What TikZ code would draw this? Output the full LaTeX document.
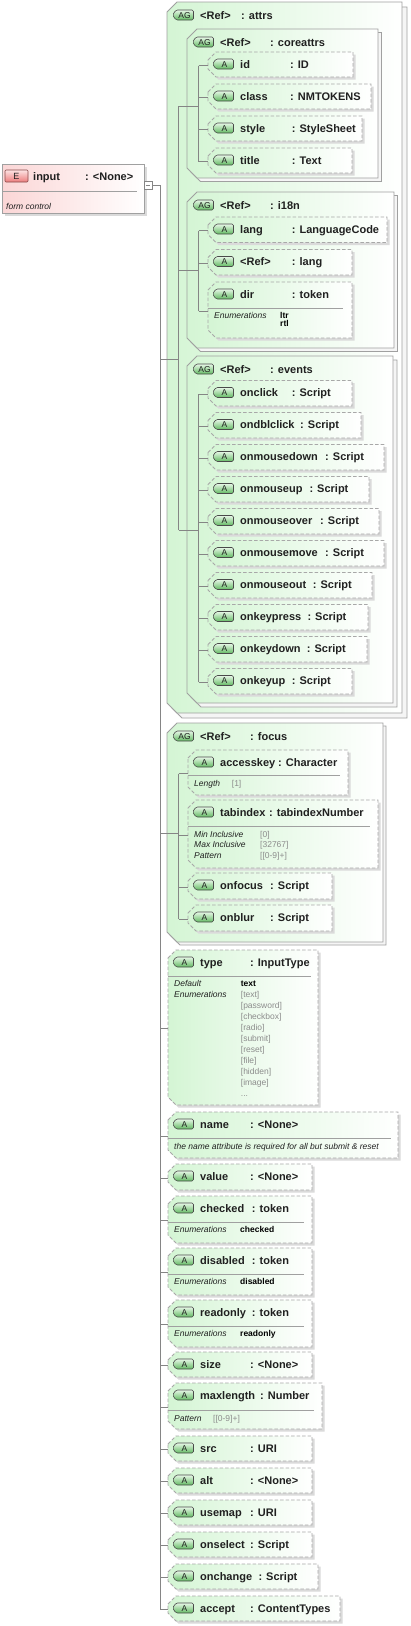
\documentclass[tikz,border=0pt]{standalone}
\usepackage{fontspec}
\setmainfont{Liberation Sans}
\definecolor{lineC}{HTML}{858585}
\definecolor{bordC}{HTML}{A0A0A0}
\definecolor{dashC}{HTML}{A8A8A8}
\definecolor{grnC}{HTML}{D4F5D4}
\definecolor{shadC}{HTML}{DADADA}
\definecolor{gshC}{HTML}{F5F5F5}
\definecolor{badgeTop}{HTML}{E6F7E6}
\definecolor{badgeBot}{HTML}{62BA62}
\definecolor{badgeBord}{HTML}{4A4A4A}
\definecolor{pinkC}{HTML}{FBD6D6}
\definecolor{eTop}{HTML}{FDE4E4}
\definecolor{eBot}{HTML}{EC7C7C}
\definecolor{eBord}{HTML}{8A4A4A}
\definecolor{valG}{HTML}{8C8C8C}
\definecolor{txtC}{HTML}{202020}
\newcommand\fName{\fontsize{11}{13}\selectfont\bfseries}
\newcommand\fHead{\fontsize{11}{13}\selectfont\bfseries}
\newcommand\fSmall{\fontsize{8.5}{10}\selectfont}
\newcommand\fBadge{\fontsize{8.5}{9}\selectfont}
\tikzset{
  conn/.style={draw=lineC, line width=0.8pt},
  namenode/.style={anchor=base west, inner sep=0pt, font=\fName, text=txtC},
  headnode/.style={anchor=base west, inner sep=0pt, font=\fHead, text=txtC},
  lblnode/.style={anchor=base west, inner sep=0pt, font=\fSmall\itshape, text=txtC},
  bvalnode/.style={anchor=base west, inner sep=0pt, font=\fSmall\bfseries, text=black},
  gvalnode/.style={anchor=base west, inner sep=0pt, font=\fSmall, text=valG},
  attrline/.style={draw=dashC, line width=0.9pt, dash pattern=on 3.5pt off 2pt},
  badgestyle/.style={draw=badgeBord, line width=0.6pt, rounded corners=1.5pt, top color=badgeTop, bottom color=badgeBot},
}
% badge: #1 L, #2 T, #3 text
\newcommand\xBadge[3]{%
  \draw[badgestyle] ({#1+4.5},{#2+12}) -- ({#1+8},{#2+7}) -- ({#1+25.5},{#2+7}) -- ({#1+25.5},{#2+17}) -- ({#1+8},{#2+17}) -- cycle;
  \node[font=\fBadge, inner sep=0pt, text=txtC] at ({#1+16.5},{#2+12.2}) {#3};
}
% attribute: #1 id, #2 L, #3 T, #4 R, #5 B, #6 name, #7 type x, #8 type
\newcommand\xAttr[8]{%
  \fill[shadC] ({#2+2.5},{#3+10.5}) -- ({#2+10.5},{#3+2.5}) -- ({#4+2.5},{#3+2.5}) -- ({#4+2.5},{#5+2.5}) -- ({#2+10.5},{#5+2.5}) -- ({#2+2.5},{#5-5.5}) -- cycle;
  \shade[left color=grnC, right color=white] (#2,{#3+8}) -- ({#2+8},#3) -- (#4,#3) -- (#4,#5) -- ({#2+8},#5) -- (#2,{#5-8}) -- cycle;
  \draw[attrline] (#2,{#3+8}) -- ({#2+8},#3) -- (#4,#3) -- (#4,#5) -- ({#2+8},#5) -- (#2,{#5-8}) -- cycle;
  \coordinate (#1) at (#2,{(#3+#5)/2+1});
  \xBadge{#2}{#3}{A}
  \node[namenode] (#1-n) at ({#2+32},{#3+16}) {#6};
  \node[namenode] (#1-t) at (#7,{#3+16}) {#8};
}
% group: #1 id, #2 L, #3 T, #4 R, #5 B, #6 offset, #7 title x, #8 title, #9 connection y
\newcommand\xGrp[9]{%
  \filldraw[fill=gshC, draw=bordC, line width=0.8pt] ({#2+#6},{#3+10+#6}) -- ({#2+10+#6},{#3+#6}) -- ({#4+#6},{#3+#6}) -- ({#4+#6},{#5+#6}) -- ({#2+10+#6},{#5+#6}) -- ({#2+#6},{#5-10+#6}) -- cycle;
  \shade[left color=grnC, right color=white] (#2,{#3+10}) -- ({#2+10},#3) -- (#4,#3) -- (#4,#5) -- ({#2+10},#5) -- (#2,{#5-10}) -- cycle;
  \draw[draw=bordC, line width=0.8pt] (#2,{#3+10}) -- ({#2+10},#3) -- (#4,#3) -- (#4,#5) -- ({#2+10},#5) -- (#2,{#5-10}) -- cycle;
  \xBadge{#2+1}{#3+1}{AG}
  \node[headnode] (#1-r) at ({#2+33},{#3+17}) {<Ref>};
  \node[headnode] (#1-t) at (#7,{#3+17}) {#8};
  \coordinate (#1) at (#2,#9);
  \coordinate (#1-v) at ({#2+11.5},#9);
}
\newcommand\xSep[3]{\draw[draw=bordC, line width=0.7pt] (#1,#3) -- (#2,#3);}
\newcommand\xLbl[3]{\node[lblnode] at (#1,#2) {#3};}
\newcommand\xBval[3]{\node[bvalnode] at (#1,#2) {#3};}
\newcommand\xGval[3]{\node[gvalnode] at (#1,#2) {#3};}

\begin{document}
\begin{tikzpicture}[x=1pt,y=-1pt]
\useasboundingbox (0,0) rectangle (411,1626);
\fill[white] (0,0) rectangle (411,1626);

% ---------- element input ----------
\fill[shadC] (5,167) rectangle (147,216);
\shade[left color=pinkC, right color=white] (2,164) rectangle (144,213);
\draw[draw=bordC, line width=0.8pt] (2,164) rectangle (144,213);
\draw[draw=bordC, line width=0.7pt] (2,191) -- (137,191);
\draw[draw=eBord, line width=0.6pt, rounded corners=1pt, top color=eTop, bottom color=eBot] (5,170) rectangle (28,182);
\node[font=\fontsize{9}{10}\selectfont, inner sep=0pt, text=txtC] (in-b) at (16.5,176.3) {E};
\node[namenode] (in-n) at (33,180) {input};
\node[namenode] (in-t) at (85,180) {: <None>};
\node[lblnode] (in-d) at (6,209.5) {form control};
\node[draw=lineC, fill=white, line width=0.7pt, minimum size=8pt, inner sep=0pt] (sq) at (148,185) {};
\draw[lineC, line width=0.7pt] ([xshift=2pt]sq.west) -- ([xshift=-2pt]sq.east);
\coordinate (j0) at (160,185);

% ---------- attrs ----------
\xGrp{attrs}{167}{2}{402}{713}{5}{241}{: attrs}{359}
\xGrp{coreattrs}{187}{29}{378}{178}{3.5}{270}{: coreattrs}{106}
\xAttr{id}{208}{52}{353}{77}{id}{290}{: ID}
\xAttr{class}{208}{84}{371}{109}{class}{290}{: NMTOKENS}
\xAttr{style}{208}{116}{362}{141}{style}{291.7}{: StyleSheet}
\xAttr{title}{208}{148}{352}{173}{title}{291.7}{: Text}

\xGrp{i18n}{187}{192}{394}{348}{3.5}{270}{: i18n}{270}
\xAttr{lang}{208}{217}{387}{242.5}{lang}{291.7}{: LanguageCode}
\xAttr{reflang}{208}{249.5}{352}{275}{<Ref>}{291.7}{: lang}
\xAttr{dir}{208}{282}{352}{338}{dir}{291.7}{: token}
\xSep{208}{343}{308.5}
\xLbl{214}{318.5}{Enumerations}
\xBval{280}{318}{ltr}
\xBval{280}{326.5}{rtl}

\xGrp{events}{187}{356}{393}{703}{4}{270}{: events}{530}
\xAttr{onclick}{208}{380.5}{352}{406}{onclick}{291.7}{: Script}
\xAttr{ondblclick}{208}{412.5}{361}{438}{ondblclick}{300}{: Script}
\xAttr{onmousedown}{208}{444.5}{384}{470}{onmousedown}{325}{: Script}
\xAttr{onmouseup}{208}{476.5}{369}{502}{onmouseup}{309.3}{: Script}
\xAttr{onmouseover}{208}{508.5}{379}{534}{onmouseover}{320}{: Script}
\xAttr{onmousemove}{208}{540.5}{384}{566}{onmousemove}{325}{: Script}
\xAttr{onmouseout}{208}{572.5}{372}{598}{onmouseout}{312.7}{: Script}
\xAttr{onkeypress}{208}{604.5}{368}{630}{onkeypress}{307.3}{: Script}
\xAttr{onkeydown}{208}{636.5}{367}{662}{onkeydown}{306.7}{: Script}
\xAttr{onkeyup}{208}{668.5}{352}{694}{onkeyup}{291.7}{: Script}

% ---------- focus ----------
\xGrp{focus}{167}{723}{383}{942}{3}{250}{: focus}{833}
\xAttr{accesskey}{188}{750}{348}{795}{accesskey}{278}{: Character}
\xSep{188}{340}{775}
\xLbl{194}{786}{Length}
\xGval{231.7}{786}{[1]}
\xAttr{tabindex}{188}{800}{378}{868}{tabindex}{269}{: tabindexNumber}
\xSep{188}{370}{826}
\xLbl{194}{837}{Min Inclusive}
\xLbl{194}{847.5}{Max Inclusive}
\xLbl{194}{858}{Pattern}
\xGval{260}{837}{[0]}
\xGval{260}{847.5}{[32767]}
\xGval{260}{858}{[[0-9]+]}
\xAttr{onfocus}{188}{873}{332}{899}{onfocus}{270}{: Script}
\xAttr{onblur}{188}{905}{332}{931}{onblur}{270}{: Script}

% ---------- top-level attributes ----------
\xAttr{type}{168}{950}{318}{1105}{type}{250}{: InputType}
\xSep{168}{311}{976}
\xLbl{174}{986}{Default}
\xLbl{174}{997}{Enumerations}
\xBval{240.7}{986}{text}
\xGval{240.7}{997}{[text]}
\xGval{240.7}{1008}{[password]}
\xGval{240.7}{1019}{[checkbox]}
\xGval{240.7}{1030}{[radio]}
\xGval{240.7}{1041}{[submit]}
\xGval{240.7}{1052}{[reset]}
\xGval{240.7}{1063}{[file]}
\xGval{240.7}{1074}{[hidden]}
\xGval{240.7}{1085}{[image]}
\xGval{240.7}{1096}{...}

\xAttr{name}{168}{1112}{398}{1158}{name}{250}{: <None>}
\xSep{168}{391}{1138}
\xLbl{174}{1149}{the name attribute is required for all but submit \& reset}
\xAttr{value}{168}{1164}{312}{1190}{value}{250}{: <None>}
\xAttr{checked}{168}{1196}{312}{1243}{checked}{251.7}{: token}
\xSep{168}{304}{1222.5}
\xLbl{174}{1232.5}{Enumerations}
\xBval{240}{1232}{checked}
\xAttr{disabled}{168}{1248}{312}{1295}{disabled}{251.7}{: token}
\xSep{168}{304}{1274}
\xLbl{174}{1284}{Enumerations}
\xBval{240}{1284}{disabled}
\xAttr{readonly}{168}{1300}{312}{1347}{readonly}{251.7}{: token}
\xSep{168}{304}{1326}
\xLbl{174}{1336}{Enumerations}
\xBval{240}{1336}{readonly}
\xAttr{size}{168}{1352}{312}{1377}{size}{250}{: <None>}
\xAttr{maxlength}{168}{1383}{322}{1429}{maxlength}{260}{: Number}
\xSep{168}{314}{1410.5}
\xLbl{174}{1421}{Pattern}
\xGval{213}{1421}{[[0-9]+]}
\xAttr{src}{168}{1436}{312}{1461}{src}{250}{: URI}
\xAttr{alt}{168}{1468}{312}{1493}{alt}{250}{: <None>}
\xAttr{usemap}{168}{1500}{312}{1525}{usemap}{250}{: URI}
\xAttr{onselect}{168}{1532}{312}{1557}{onselect}{250}{: Script}
\xAttr{onchange}{168}{1564}{318}{1589}{onchange}{258.3}{: Script}
\xAttr{accept}{168}{1596}{340}{1621}{accept}{250}{: ContentTypes}

% ---------- connectors ----------
\draw[conn] (sq.east) -- (j0) -- (j0 |- accept);
\foreach \nm in {attrs,focus} \draw[conn] (j0 |- \nm) -- (\nm-v);
\foreach \nm in {type,name,value,checked,disabled,readonly,size,maxlength,src,alt,usemap,onselect,onchange,accept}
  \draw[conn] (j0 |- \nm) -- (\nm);
\draw[conn] (attrs-v |- coreattrs) -- (attrs-v |- events);
\foreach \nm in {coreattrs,i18n,events} \draw[conn] (attrs-v |- \nm) -- (\nm-v);
\draw[conn] (coreattrs-v |- id) -- (coreattrs-v |- title);
\foreach \nm in {id,class,style,title} \draw[conn] (coreattrs-v |- \nm) -- (\nm);
\draw[conn] (i18n-v |- lang) -- (i18n-v |- dir);
\foreach \nm in {lang,reflang,dir} \draw[conn] (i18n-v |- \nm) -- (\nm);
\draw[conn] (events-v |- onclick) -- (events-v |- onkeyup);
\foreach \nm in {onclick,ondblclick,onmousedown,onmouseup,onmouseover,onmousemove,onmouseout,onkeypress,onkeydown,onkeyup}
  \draw[conn] (events-v |- \nm) -- (\nm);
\draw[conn] (focus-v |- accesskey) -- (focus-v |- onblur);
\foreach \nm in {accesskey,tabindex,onfocus,onblur} \draw[conn] (focus-v |- \nm) -- (\nm);
\end{tikzpicture}
\end{document}
